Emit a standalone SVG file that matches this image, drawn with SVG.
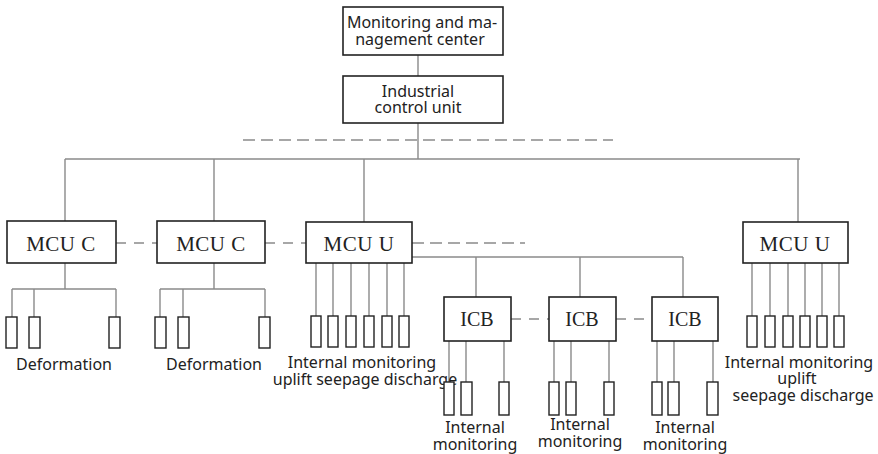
<svg xmlns="http://www.w3.org/2000/svg" width="878" height="454" viewBox="0 0 878 454">
<style>
.box{fill:#fff;stroke:#222;stroke-width:1.6}
.sbox{fill:#fff;stroke:#222;stroke-width:1.4}
.ln{fill:none;stroke:#8a8a8a;stroke-width:1.4}
.dl{fill:none;stroke:#8a8a8a;stroke-width:1.6;stroke-dasharray:12 6}
.sans{font-family:"Noto Sans","Open Sans",sans-serif;font-size:16px;fill:#222;text-anchor:middle}
.ser{font-family:"Liberation Serif","Times New Roman",serif;font-size:21px;fill:#222;text-anchor:middle;letter-spacing:0.5px}
.ser2{font-family:"Liberation Serif","Times New Roman",serif;font-size:20px;fill:#222;text-anchor:middle}
</style>
<rect width="878" height="454" fill="#fff"/>
<g id="connectors">
<path class="ln" d="M418 55V76M418 123V159M65 159H800M65 159V221M214 159V221M364 159V222M798 159V222"/>
<path class="dl" d="M243 140H613"/>
<path class="dl" style="stroke-dasharray:10 8" d="M116 243H157M265 243H306"/>
<path class="dl" d="M412 243H525"/>
<path class="dl" style="stroke-dasharray:10 8" d="M511 319H549M616 319H652"/>
<path class="ln" d="M65 263V289M12 289H116M12 289V317M34 289V317M116 289V317"/>
<path class="ln" d="M214 263V289M160 289H265M160 289V317M183 289V317M265 289V317"/>
<path class="ln" d="M316 263V316M333 263V316M351 263V316M369 263V316M387 263V316M404 263V316"/>
<path class="ln" d="M412 257H683M476 257V297M580 257V297M683 257V297"/>
<path class="ln" d="M449 341V382M466 341V382M504 341V382M554 341V382M571 341V382M609 341V382M657 341V382M674 341V382M713 341V382"/>
<path class="ln" d="M752 263V316M770 263V316M788 263V316M805 263V316M822 263V316M839 263V316"/>
</g>
<g id="center"><rect class="box" x="343" y="7" width="160" height="48"/><text class="sans" x="422" y="28">Monitoring and ma-</text><text class="sans" x="420" y="45">nagement center</text></g>
<g id="icu"><rect class="box" x="343" y="76" width="160" height="47"/><text class="sans" x="418" y="97">Industrial</text><text class="sans" x="418" y="113">control unit</text></g>
<g id="mcu-c1"><rect class="box" x="7" y="221" width="109" height="42"/><text class="ser" x="61" y="251">MCU C</text></g>
<g id="mcu-c2"><rect class="box" x="157" y="221" width="108" height="42"/><text class="ser" x="211" y="251">MCU C</text></g>
<g id="mcu-u1"><rect class="box" x="306" y="222" width="106" height="41"/><text class="ser" x="359" y="251">MCU U</text></g>
<g id="mcu-u2"><rect class="box" x="743" y="222" width="105" height="41"/><text class="ser" x="795" y="251">MCU U</text></g>
<g id="icb1"><rect class="box" x="444" y="297" width="67" height="44"/><text class="ser2" x="477" y="326">ICB</text></g>
<g id="icb2"><rect class="box" x="549" y="297" width="67" height="44"/><text class="ser2" x="582" y="326">ICB</text></g>
<g id="icb3"><rect class="box" x="652" y="297" width="66" height="44"/><text class="ser2" x="685" y="326">ICB</text></g>
<g id="sensors-c1"><rect class="sbox" x="6" y="317" width="11" height="31"/><rect class="sbox" x="29" y="317" width="11" height="31"/><rect class="sbox" x="109" y="317" width="11" height="31"/><text class="sans" x="64" y="370">Deformation</text></g>
<g id="sensors-c2"><rect class="sbox" x="155" y="317" width="11" height="31"/><rect class="sbox" x="178" y="317" width="11" height="31"/><rect class="sbox" x="259" y="317" width="11" height="31"/><text class="sans" x="214" y="370">Deformation</text></g>
<g id="sensors-u1"><rect class="sbox" x="311" y="316" width="10" height="31"/><rect class="sbox" x="328" y="316" width="10" height="31"/><rect class="sbox" x="346" y="316" width="10" height="31"/><rect class="sbox" x="364" y="316" width="10" height="31"/><rect class="sbox" x="382" y="316" width="10" height="31"/><rect class="sbox" x="399" y="316" width="10" height="31"/><text class="sans" x="362" y="368">Internal monitoring</text><text class="sans" x="365" y="385">uplift seepage discharge</text></g>
<g id="sensors-u2"><rect class="sbox" x="747" y="316" width="10" height="31"/><rect class="sbox" x="765" y="316" width="10" height="31"/><rect class="sbox" x="783" y="316" width="10" height="31"/><rect class="sbox" x="800" y="316" width="10" height="31"/><rect class="sbox" x="817" y="316" width="10" height="31"/><rect class="sbox" x="834" y="316" width="10" height="31"/><text class="sans" x="799" y="368">Internal monitoring</text><text class="sans" x="797" y="384">uplift</text><text class="sans" x="803" y="401">seepage discharge</text></g>
<g id="sensors-i1"><rect class="sbox" x="444" y="382" width="10" height="33"/><rect class="sbox" x="461" y="382" width="11" height="33"/><rect class="sbox" x="499" y="382" width="10" height="33"/><text class="sans" x="475" y="433">Internal</text><text class="sans" x="475" y="450">monitoring</text></g>
<g id="sensors-i2"><rect class="sbox" x="549" y="382" width="10" height="33"/><rect class="sbox" x="566" y="382" width="10" height="33"/><rect class="sbox" x="604" y="382" width="10" height="33"/><text class="sans" x="580" y="430">Internal</text><text class="sans" x="580" y="447">monitoring</text></g>
<g id="sensors-i3"><rect class="sbox" x="652" y="382" width="10" height="33"/><rect class="sbox" x="668" y="382" width="11" height="33"/><rect class="sbox" x="707" y="382" width="11" height="33"/><text class="sans" x="685" y="433">Internal</text><text class="sans" x="685" y="450">monitoring</text></g>
</svg>
